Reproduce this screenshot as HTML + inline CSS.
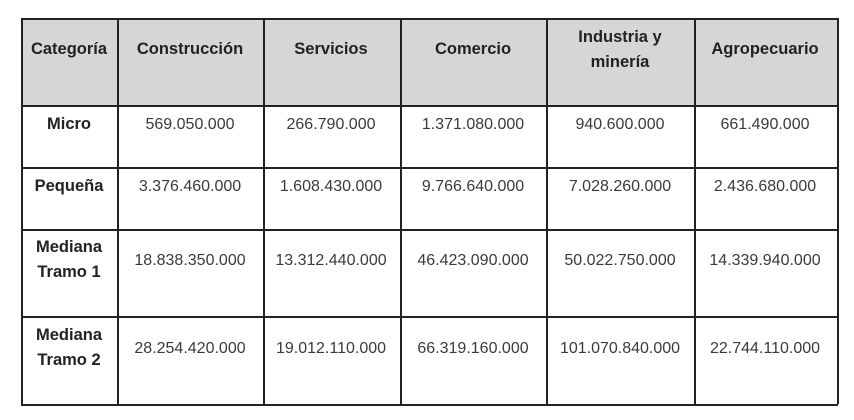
<!DOCTYPE html>
<html><head><meta charset="utf-8"><style>
body{margin:0;width:854px;height:420px;background:#fff;position:relative;font-family:"Liberation Sans",sans-serif;overflow:hidden}
.hd{position:absolute;left:21px;top:18px;width:816px;height:87px;background:#d6d6d6}
.v{position:absolute;top:18px;height:386px;width:1.5px;background:#222}
.h{position:absolute;left:21px;width:817px;height:1.5px;background:#222}
.t{position:absolute;font-size:16px;color:#3a3a3a;text-align:center;line-height:25px;white-space:nowrap;transform:translateX(-50%)}
.b{font-weight:bold;color:#222;font-size:16.5px}
</style></head><body>
<div class="hd"></div>
<div class="v" style="left:21px"></div><div class="v" style="left:117px"></div><div class="v" style="left:263px"></div><div class="v" style="left:400px"></div><div class="v" style="left:546px"></div><div class="v" style="left:694px"></div><div class="v" style="left:837px"></div>
<div class="h" style="top:18px"></div><div class="h" style="top:105px"></div><div class="h" style="top:167px"></div><div class="h" style="top:229px"></div><div class="h" style="top:316px"></div><div class="h" style="top:404px"></div>

<div class="t b" style="left:69px;top:37px">Categoría</div>
<div class="t b" style="left:190px;top:37px">Construcción</div>
<div class="t b" style="left:331px;top:37px">Servicios</div>
<div class="t b" style="left:473px;top:37px">Comercio</div>
<div class="t b" style="left:620px;top:25px">Industria y<br>minería</div>
<div class="t b" style="left:765px;top:37px">Agropecuario</div>

<div class="t b" style="left:69px;top:112px">Micro</div>
<div class="t" style="left:190px;top:112px">569.050.000</div>
<div class="t" style="left:331px;top:112px">266.790.000</div>
<div class="t" style="left:473px;top:112px">1.371.080.000</div>
<div class="t" style="left:620px;top:112px">940.600.000</div>
<div class="t" style="left:765px;top:112px">661.490.000</div>

<div class="t b" style="left:69px;top:174px">Pequeña</div>
<div class="t" style="left:190px;top:174px">3.376.460.000</div>
<div class="t" style="left:331px;top:174px">1.608.430.000</div>
<div class="t" style="left:473px;top:174px">9.766.640.000</div>
<div class="t" style="left:620px;top:174px">7.028.260.000</div>
<div class="t" style="left:765px;top:174px">2.436.680.000</div>

<div class="t b" style="left:69px;top:235px">Mediana<br>Tramo 1</div>
<div class="t" style="left:190px;top:248px">18.838.350.000</div>
<div class="t" style="left:331px;top:248px">13.312.440.000</div>
<div class="t" style="left:473px;top:248px">46.423.090.000</div>
<div class="t" style="left:620px;top:248px">50.022.750.000</div>
<div class="t" style="left:765px;top:248px">14.339.940.000</div>

<div class="t b" style="left:69px;top:323px">Mediana<br>Tramo 2</div>
<div class="t" style="left:190px;top:336px">28.254.420.000</div>
<div class="t" style="left:331px;top:336px">19.012.110.000</div>
<div class="t" style="left:473px;top:336px">66.319.160.000</div>
<div class="t" style="left:620px;top:336px">101.070.840.000</div>
<div class="t" style="left:765px;top:336px">22.744.110.000</div>
</body></html>
